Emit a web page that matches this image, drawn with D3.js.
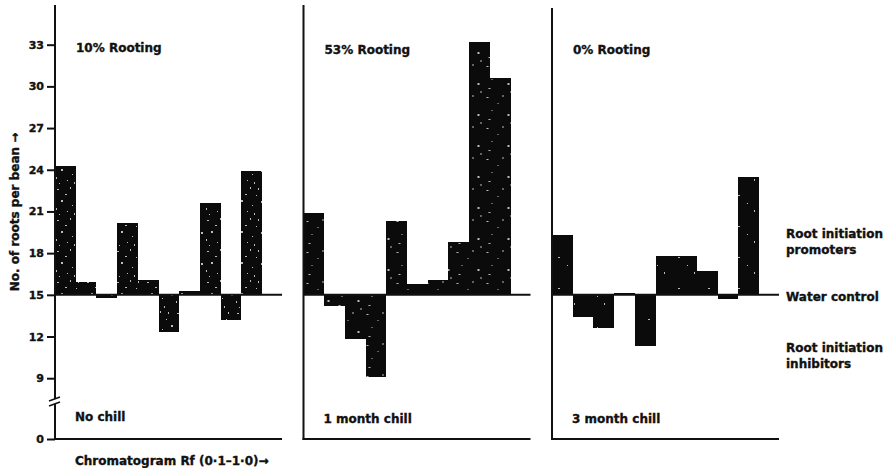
<!DOCTYPE html>
<head>
    <meta charset="utf-8">
    <script src="https://cdn.jsdelivr.net/npm/d3@7/dist/d3.min.js"></script>
    <title>Roots per bean</title>
    <style>
        body { margin: 0; background: #fff; }
        text { font-family: "DejaVu Sans", sans-serif; font-weight: bold; fill: #111; stroke: #111; stroke-width: 0.35px; }
    </style>
</head>
<body>
    <div id="chart"></div>
    <script>
        // Chromatogram fractions (Rf 0.1 - 1.0)
        const categories = ["0.1", "0.2", "0.3", "0.4", "0.5", "0.6", "0.7", "0.8", "0.9", "1.0"];
        const panels = ["No chill", "1 month chill", "3 month chill"];
        const rootingLabels = ["10% Rooting", "53% Rooting", "0% Rooting"];

        // No. of roots per bean for each fraction
        const noChill = [24.3, 15.9, 14.8, 20.2, 16.1, 12.3, 15.3, 21.6, 13.2, 23.9];
        const oneMonthChill = [20.9, 14.2, 11.8, 9.1, 20.3, 15.8, 16.1, 18.8, 33.2, 30.6];
        const threeMonthChill = [19.3, 13.4, 12.6, 15.1, 11.3, 17.8, 17.8, 16.7, 14.7, 23.5];

        const yTicks = [0, 9, 12, 15, 18, 21, 24, 27, 30, 33];
        const waterControl = 15;

        const series = [noChill, oneMonthChill, threeMonthChill];

        const width = 888, height = 468;

        const svg = d3.select("#chart").append("svg")
            .attr("width", width)
            .attr("height", height);

        // speckled fill like the printed bars (fixed dot positions in a tile)
        const defs = svg.append("defs");
        const speckles = [
            { id: "speck-dense", dots: [[2,3],[15,1],[21,9],[6,14],[17,19],[1,22],[10,8],[23,2],[12,25],[26,15],[4,28],[19,27]] },
            { id: "speck-mid", dots: [[3,4],[19,2],[8,17],[24,21],[14,10],[27,29],[5,26]] },
            { id: "speck-light", dots: [[6,9],[22,24],[15,17]] }
        ];
        speckles.forEach(s => {
            const p = defs.append("pattern")
                .attr("id", s.id)
                .attr("patternUnits", "userSpaceOnUse")
                .attr("width", 30).attr("height", 31);
            p.append("rect").attr("width", 30).attr("height", 31).attr("fill", "#0b0b0b");
            p.selectAll("rect.d").data(s.dots).enter().append("rect")
                .attr("class", "d")
                .attr("x", d => d[0]).attr("y", d => d[1])
                .attr("width", (d, k) => k % 3 == 0 ? 2 : 1)
                .attr("height", (d, k) => k % 2 == 0 ? 1 : 2)
                .attr("fill", "#bdbdbd");
        });
        const fills = ["url(#speck-dense)", "url(#speck-mid)", "url(#speck-light)"];

        // broken y scale: 0 .. 7 squeezed below the break
        const y = d3.scaleLinear()
            .domain([0, 7, 36])
            .range([439, 406, 3]);

        const panelX = d3.scaleBand()
            .domain(panels)
            .range([55, 800.5]);

        const x = d3.scaleBand()
            .domain(categories)
            .range([0, 207]);

        const panelW = 227;

        panels.forEach((name, i) => {
            const g = svg.append("g")
                .attr("transform", `translate(${panelX(name)},0)`);

            // bars from the water control line
            g.selectAll(".bar")
                .data(series[i])
                .enter()
                .append("rect")
                .attr("class", "bar")
                .attr("x", (d, j) => x(categories[j]))
                .attr("y", d => y(Math.max(d, waterControl)))
                .attr("width", x.bandwidth())
                .attr("height", d => Math.abs(y(d) - y(waterControl)))
                .attr("shape-rendering", "crispEdges")
                .style("fill", fills[i]);

            // water control line
            g.append("line")
                .attr("x1", 0).attr("x2", panelW)
                .attr("y1", y(waterControl)).attr("y2", y(waterControl))
                .attr("stroke", "#111").attr("stroke-width", 2);

            // left and bottom axis lines
            g.append("line")
                .attr("x1", 0).attr("x2", 0)
                .attr("y1", i == 2 ? 8 : 5).attr("y2", y(0) + 1)
                .attr("stroke", "#111").attr("stroke-width", 2);
            g.append("line")
                .attr("x1", -1).attr("x2", panelW)
                .attr("y1", y(0)).attr("y2", y(0))
                .attr("stroke", "#111").attr("stroke-width", 2);

            g.append("text")
                .attr("x", 21).attr("y", 52 + (i > 0 ? 2 : 0))
                .attr("font-size", "12px")
                .text(rootingLabels[i]);

            g.append("text")
                .attr("x", 20).attr("y", 421 + (i > 0 ? 2 : 0))
                .attr("font-size", "12px")
                .text(name);
        });

        // y axis on the first panel only
        const axis = svg.append("g")
            .attr("transform", `translate(${panelX(panels[0])},0)`)
            .call(d3.axisLeft(y).tickValues(yTicks).tickSize(8).tickPadding(3));
        axis.select(".domain").remove();
        axis.selectAll(".tick line").attr("stroke", "#111").attr("stroke-width", 2);
        axis.selectAll(".tick text")
            .attr("font-family", "DejaVu Sans")
            .attr("font-weight", "bold")
            .attr("font-size", "11px")
            .style("fill", "#111");

        // axis break
        const brk = svg.append("g").attr("transform", `translate(${panelX(panels[0])},${(y(7) + y(9)) / 2 + 10})`);
        brk.append("rect").attr("x", -3).attr("y", -3).attr("width", 6).attr("height", 5).attr("fill", "#fff");
        [-3, 2].forEach(dy => {
            brk.append("line")
                .attr("x1", -6).attr("x2", 5)
                .attr("y1", dy + 2).attr("y2", dy - 2)
                .attr("stroke", "#111").attr("stroke-width", 1.6);
        });

        // y title
        svg.append("text")
            .attr("transform", "translate(19,212) rotate(-90)")
            .attr("text-anchor", "middle")
            .attr("font-size", "12px")
            .text("No. of roots per bean \u2192");

        // x title
        svg.append("text")
            .attr("x", 75).attr("y", 465)
            .attr("font-size", "12px")
            .text("Chromatogram Rf (0\u00b71\u20131\u00b70)\u2192");

        // right-hand annotations
        const notes = [
            { t: "Root initiation", y: 238 },
            { t: "promoters", y: 254 },
            { t: "Water control", y: 301 },
            { t: "Root initiation", y: 352 },
            { t: "inhibitors", y: 368 }
        ];
        svg.selectAll(".note")
            .data(notes)
            .enter()
            .append("text")
            .attr("class", "note")
            .attr("x", 786)
            .attr("y", d => d.y)
            .attr("font-size", "12px")
            .text(d => d.t);
    </script>
</body>
